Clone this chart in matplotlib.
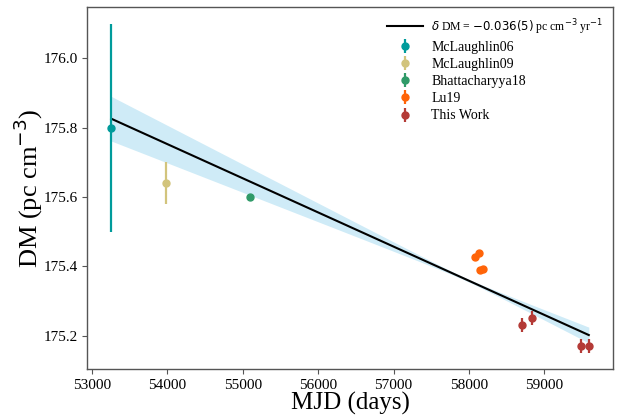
import numpy as np
import matplotlib
matplotlib.use("Agg")
import matplotlib.pyplot as plt

plt.rcParams['font.family'] = ['Liberation Serif', 'DejaVu Serif']
plt.rcParams['mathtext.fontset'] = 'dejavusans'

# DM measurements per reference
mcl06_mjd = [53254]
mcl06_dm = [175.80]
mcl06_err = [0.30]

mcl09_mjd = [53981]
mcl09_dm = [175.64]
mcl09_err = [0.06]

bha18_mjd = [55090]
bha18_dm = [175.60]
bha18_err = [0.003]

lu19_mjd = [58085, 58140, 58150, 58190]
lu19_dm = [175.428, 175.438, 175.390, 175.393]
lu19_err = [0.004, 0.004, 0.004, 0.004]

tw_mjd = [58708, 58836, 59485, 59591]
tw_dm = [175.230, 175.251, 175.170, 175.170]
tw_err = [0.020, 0.020, 0.020, 0.020]

# linear DM trend fit
fit_t0 = 53254.0
fit_dm0 = 175.826
fit_slope = -0.036        # pc cm^-3 yr^-1
fit_slope_err = 0.005
fit_pivot = 57950.0
fit_dm_err_pivot = 0.004
fit_t_end = 59591.0

fig = plt.figure(figsize=(6.21, 4.15), dpi=100)
ax = fig.add_axes([0.1406, 0.1101, 0.846, 0.8723])

t = np.linspace(fit_t0, fit_t_end, 200)
model = fit_dm0 + fit_slope / 365.25 * (t - fit_t0)
half = np.sqrt((fit_slope_err / 365.25 * (t - fit_pivot)) ** 2 + fit_dm_err_pivot ** 2)
ax.fill_between(t, model - half, model + half, color='skyblue', alpha=0.4, lw=0)
ax.plot(t, model, color='black', lw=1.5,
        label=r'$\delta$ DM = $-0.036(5)$ pc cm$^{-3}$ yr$^{-1}$')

series = [
    (mcl06_mjd, mcl06_dm, mcl06_err, '#009b9b', 'McLaughlin06'),
    (mcl09_mjd, mcl09_dm, mcl09_err, '#d2c47c', 'McLaughlin09'),
    (bha18_mjd, bha18_dm, bha18_err, '#2f9a68', 'Bhattacharyya18'),
    (lu19_mjd, lu19_dm, lu19_err, '#ff6408', 'Lu19'),
    (tw_mjd, tw_dm, tw_err, '#b43a36', 'This Work'),
]
for x, y, e, c, lab in series:
    ax.errorbar(x, y, yerr=e, fmt='o', color=c, ecolor=c, ms=5,
                elinewidth=1.6, capsize=0, label=lab)

ax.set_xlabel('MJD (days)', fontsize=18, labelpad=0)
ax.set_ylabel(r'DM (pc cm$^{-3}$)', fontsize=19, labelpad=-1)
ax.set_xticks([53000, 54000, 55000, 56000, 57000, 58000, 59000])
ax.set_yticks([175.2, 175.4, 175.6, 175.8, 176.0])
ax.tick_params(labelsize=11, color='#555555', length=3.5, width=0.8)
for s in ax.spines.values():
    s.set_color('#555555')
    s.set_linewidth(1.0)

leg = ax.legend(loc='upper right', fontsize=10, frameon=False, handlelength=2.6,
                handletextpad=0.55, labelspacing=0.3, borderaxespad=0.3)
leg.get_texts()[0].set_fontsize(8.5)

fig.savefig('out.png', dpi=100)
